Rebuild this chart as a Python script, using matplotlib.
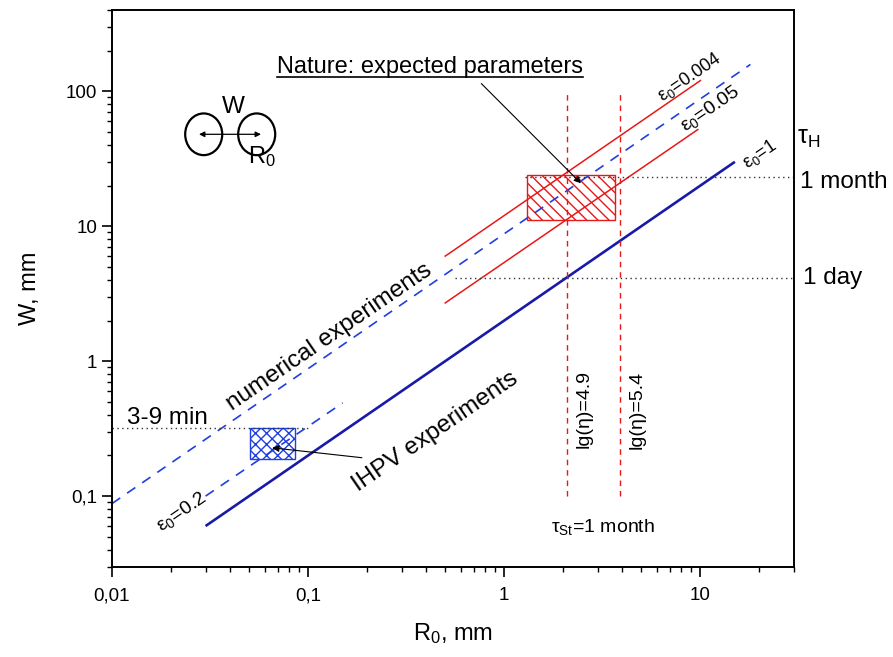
import matplotlib
matplotlib.use("Agg")
import matplotlib.pyplot as plt
from matplotlib.patches import Rectangle, Ellipse
from matplotlib.lines import Line2D
import numpy as np

plt.rcParams['font.family'] = ['Liberation Sans', 'DejaVu Sans']
plt.rcParams['mathtext.fontset'] = 'custom'
plt.rcParams['mathtext.rm'] = 'Liberation Sans'
plt.rcParams['mathtext.it'] = 'Liberation Sans:italic'
plt.rcParams['mathtext.bf'] = 'Liberation Sans:bold'
plt.rcParams['hatch.linewidth'] = 1.0

# ---------------- data ----------------
R_eps1 = [0.03, 15]          # eps0 = 1 (solid blue)
W_eps1 = [0.06, 30]
R_num = [0.01, 18]           # numerical experiments (dashed blue)
W_num = [0.088, 158]
R_eps02 = [0.03, 0.15]       # eps0 = 0.2 (dashed blue)
W_eps02 = [0.1, 0.49]
R_eps0004 = [0.5, 10]        # eps0 = 0.004 (red)
W_eps0004 = [6, 120]
R_eps005 = [0.5, 9.7]        # eps0 = 0.05 (red)
W_eps005 = [2.7, 52]
eta_R = [2.1, 3.9]           # lg(eta) = 4.9, 5.4
eta_W = [0.1, 100]
eta_labels = ['lg(η)=4.9', 'lg(η)=5.4']
nature_R = [1.31, 3.65]
nature_W = [11.1, 24.1]
ihpv_R = [0.0506, 0.0856]
ihpv_W = [0.189, 0.319]
month_W, month_R = 23.1, [1.28, 30]
day_W, day_R = 4.15, [0.56, 30]
min_W, min_R = 0.32, [0.01, 0.104]
xticks = [0.01, 0.1, 1, 10]
xticklabels = ['0,01', '0,1', '1', '10']
yticks = [0.1, 1, 10, 100]
yticklabels = ['0,1', '1', '10', '100']

fig = plt.figure(figsize=(8.93, 6.57), dpi=100)
ax = fig.add_axes([0.1254, 0.1375, 0.7637, 0.8473])
ax.set_xscale('log')
ax.set_yscale('log')
ax.set_xlim(0.01, 30)
ax.set_ylim(0.03, 400)

blue_dark = '#1a1aa8'
blue = '#1f3fe0'
red = '#e81818'

ax.plot(R_eps1, W_eps1, color=blue_dark, lw=1.9, solid_capstyle='butt')
ax.plot(R_num, W_num, color=blue, lw=1.2, dashes=(6, 5))
ax.plot(R_eps02, W_eps02, color=blue, lw=1.2, dashes=(6, 5))
ax.plot(R_eps0004, W_eps0004, color=red, lw=1.1)
ax.plot(R_eps005, W_eps005, color=red, lw=1.1)
for xr in eta_R:
    ax.plot([xr, xr], eta_W, color=red, lw=1.0, dashes=(4, 3.5))

ax.add_patch(Rectangle((nature_R[0], nature_W[0]), nature_R[1] - nature_R[0],
                       nature_W[1] - nature_W[0], facecolor='none',
                       edgecolor=red, hatch='\\\\\\', lw=1.0))
ax.add_patch(Rectangle((ihpv_R[0], ihpv_W[0]), ihpv_R[1] - ihpv_R[0],
                       ihpv_W[1] - ihpv_W[0], facecolor='none',
                       edgecolor=blue, hatch='xxx', lw=1.0))

dot = dict(color='#333333', lw=1.0, linestyle=(0, (1, 2.5)))
ax.plot(month_R, [month_W, month_W], **dot)
ax.plot(day_R, [day_W, day_W], **dot)
ax.plot(min_R, [min_W, min_W], **dot)

# ticks
ax.set_xticks(xticks)
ax.set_xticklabels(xticklabels)
ax.set_yticks(yticks)
ax.set_yticklabels(yticklabels)
ax.tick_params(which='major', direction='out', length=7, width=1.2, labelsize=13.5,
               top=False, right=False)
ax.tick_params(axis='x', which='major', pad=8)
ax.tick_params(which='minor', direction='out', length=3.5, width=1.0,
               top=False, right=False)
for s in ax.spines.values():
    s.set_linewidth(1.4)

ax.set_xlabel('R$_0$, mm', fontsize=17, labelpad=12)
ax.set_ylabel('W, mm', fontsize=17, labelpad=18)

big = 17.5
ax.text(0.128, 1.50, 'numerical experiments', fontsize=big, rotation=34.4,
        ha='center', va='center', rotation_mode='anchor')
ax.text(0.4447, 0.298, 'IHPV experiments', fontsize=big, rotation=34.4,
        ha='center', va='center', rotation_mode='anchor')
ax.text(0.0192, 0.38, '3-9 min', fontsize=big, ha='center', va='center')

eps = 13
ax.text(8.79, 126, 'ε$_0$=0.004', fontsize=eps, rotation=34.4, ha='center',
        va='center', rotation_mode='anchor')
ax.text(11.28, 74, 'ε$_0$=0.05', fontsize=eps + 1, rotation=34.4, ha='center',
        va='center', rotation_mode='anchor')
ax.text(20.0, 34, 'ε$_0$=1', fontsize=eps, rotation=34.4, ha='center',
        va='center', rotation_mode='anchor')
ax.text(0.0226, 0.0761, 'ε$_0$=0.2', fontsize=eps + 1, rotation=34.4, ha='center',
        va='center', rotation_mode='anchor')

ax.text(2.568, 0.4385, eta_labels[0], fontsize=14, rotation=90, ha='center', va='center')
ax.text(4.786, 0.4385, eta_labels[1], fontsize=14, rotation=90, ha='center', va='center')
ax.text(3.18, 0.0586, 'τ$_{\\mathrm{St}}$=1 month', fontsize=14, ha='center', va='center')

ax.text(31.1, 45.4, 'τ$_{\\mathrm{H}}$', fontsize=18, ha='left', va='center', clip_on=False)
ax.text(32.2, 21.3, '1 month', fontsize=17.5, ha='left', va='center', clip_on=False)
ax.text(33.3, 4.10, '1 day', fontsize=17.5, ha='left', va='center', clip_on=False)

nat = ax.text(0.42, 150, 'Nature: expected parameters', fontsize=17, ha='center',
              va='center')
ax.annotate('', xy=(2.46, 20.8), xytext=(0.764, 114),
            arrowprops=dict(arrowstyle='-|>', color='black', lw=0.8,
                            mutation_scale=10, shrinkA=0, shrinkB=0))
ax.annotate('', xy=(0.0656, 0.228), xytext=(0.188, 0.1925),
            arrowprops=dict(arrowstyle='-|>', color='black', lw=0.8,
                            mutation_scale=10, shrinkA=0, shrinkB=0))

# inset sketch of two drops
for cx in (0.1345, 0.2122):
    ax.add_patch(Ellipse((cx, 0.7767), 0.0543, 0.0749, transform=ax.transAxes,
                         facecolor='none', edgecolor='black', lw=1.6))
ax.annotate('', xy=(0.1276, 0.7767), xytext=(0.2185, 0.7767),
            xycoords='axes fraction', textcoords='axes fraction',
            arrowprops=dict(arrowstyle='<|-|>', color='black', lw=0.9,
                            mutation_scale=8, shrinkA=0, shrinkB=0))
ax.text(0.1774, 0.8257, 'W', fontsize=17.5, ha='center', va='center',
        transform=ax.transAxes)
ax.text(0.2199, 0.7360, 'R$_0$', fontsize=17, ha='center', va='center',
        transform=ax.transAxes)

# underline for Nature text
fig.canvas.draw()
bb = nat.get_window_extent(fig.canvas.get_renderer())
inv = fig.transFigure.inverted()
(x0, y0), (x1, y1) = inv.transform([(bb.x0, bb.y0), (bb.x1, bb.y0)])
fig.add_artist(Line2D([x0, x1], [y0 + 0.002, y0 + 0.002], color='black', lw=1.2))

fig.savefig('out.png', dpi=100)
